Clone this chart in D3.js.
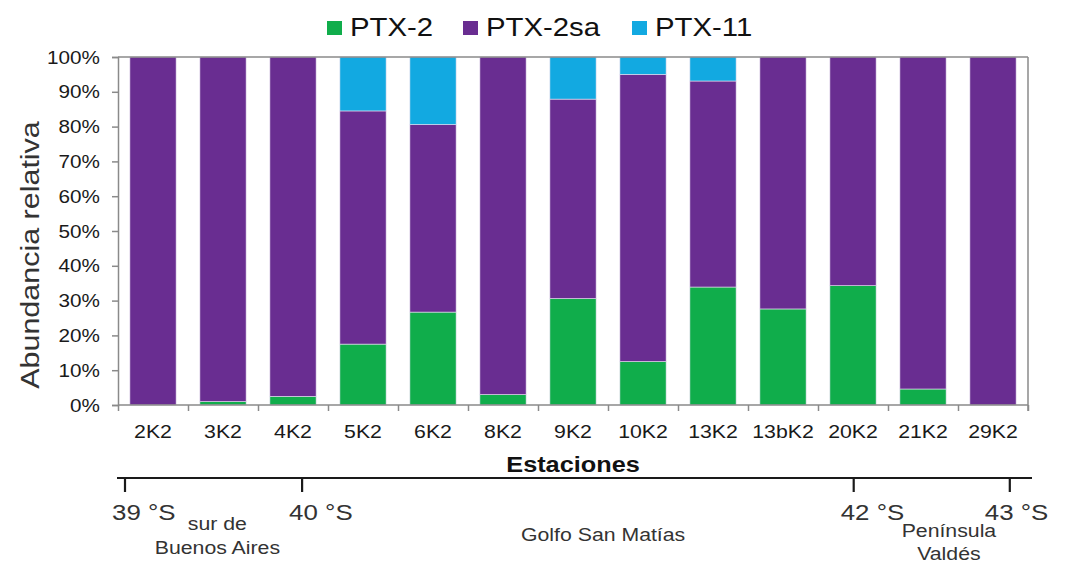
<!DOCTYPE html>
<html>
<head>
<meta charset="utf-8">
<script src="https://cdn.jsdelivr.net/npm/d3@7"></script>
<style>
  html, body { margin: 0; padding: 0; background: #fff; }
  svg { display: block; }
  text { font-family: "Liberation Sans", Arial, Helvetica, sans-serif; }
</style>
</head>
<body>
<svg id="chart" width="1067" height="562"></svg>
<script>
// ---- data ----
const stations = ["2K2", "3K2", "4K2", "5K2", "6K2", "8K2", "9K2", "10K2", "13K2", "13bK2", "20K2", "21K2", "29K2"];
const seriesNames = ["PTX-2", "PTX-2sa", "PTX-11"];
const ptx2   = [0.0, 1.0, 2.5, 17.5, 26.7, 3.0, 30.6, 12.5, 33.9, 27.6, 34.3, 4.6, 0.0];
const ptx2sa = [100.0, 99.0, 97.5, 67.0, 53.9, 97.0, 57.3, 82.5, 59.2, 72.4, 65.7, 95.4, 100.0];
const ptx11  = [0.0, 0.0, 0.0, 15.5, 19.4, 0.0, 12.1, 5.0, 6.9, 0.0, 0.0, 0.0, 0.0];
const yTicks = [0, 10, 20, 30, 40, 50, 60, 70, 80, 90, 100];
const latTicks = ["39 °S", "40 °S", "42 °S", "43 °S"];
const latPos = [0.1, 2.63, 10.51, 12.74];          // position along station axis (band units)
const regionLabels = [["sur de", "Buenos Aires"], ["Golfo San Matías"], ["Península", "Valdés"]];
const regionPos = [1.42, 6.93, 11.87];

const colors = {"PTX-2": "#10ad4b", "PTX-2sa": "#692d91", "PTX-11": "#12a9e1"};

// ---- layout ----
const svg = d3.select("#chart");
const L = 118, R = 1028, T = 57, B = 405;
const SX = 1.15; // horizontal stretch of text as in the reference

function txt(g, x, y, s, opts) {
  const o = Object.assign({size: 18, anchor: "middle", weight: "normal", fill: "#1a1a1a", rotate: 0}, opts || {});
  return g.append("text")
    .attr("transform", `translate(${x},${y}) rotate(${o.rotate}) scale(${SX},1)`)
    .attr("text-anchor", o.anchor)
    .attr("font-size", o.size)
    .attr("font-weight", o.weight)
    .attr("fill", o.fill)
    .text(s);
}

const x = d3.scaleBand().domain(stations).range([L, R]).paddingInner(0.34).paddingOuter(0.17);
const xPos = d3.scaleLinear().domain([0, stations.length]).range([L, R]);
const y = d3.scaleLinear().domain([0, 100]).range([B, T]);

const rows = stations.map((s, i) => ({station: s, "PTX-2": ptx2[i], "PTX-2sa": ptx2sa[i], "PTX-11": ptx11[i]}));
const stacked = d3.stack().keys(seriesNames)(rows);

// bars
svg.append("g").selectAll("g").data(stacked).join("g")
  .attr("fill", d => colors[d.key])
  .selectAll("rect").data(d => d).join("rect")
  .attr("x", d => x(d.data.station))
  .attr("width", x.bandwidth())
  .attr("y", d => y(d[1]))
  .attr("height", d => Math.max(0, y(d[0]) - y(d[1])))
  .attr("stroke", "#e6def0")
  .attr("stroke-width", 0.6);

// frame (top / right)
const axisColor = "#8a8a8a";
svg.append("line").attr("x1", L).attr("x2", R).attr("y1", T).attr("y2", T).attr("stroke", axisColor).attr("stroke-width", 1.5);
svg.append("line").attr("x1", R).attr("x2", R).attr("y1", T).attr("y2", B + 6).attr("stroke", axisColor).attr("stroke-width", 1.5);

// y axis
const gy = svg.append("g").attr("transform", `translate(${L},0)`)
  .call(d3.axisLeft(y).tickValues(yTicks).tickSize(6).tickFormat(() => ""));
gy.selectAll("line, path").attr("stroke", axisColor).attr("stroke-width", 1.5);
yTicks.forEach(v => {
  txt(svg, L - 18, y(v) + 6.5, v + "%", {anchor: "end", size: 18});
});

// x axis: ticks at band boundaries
svg.append("line").attr("x1", L).attr("x2", R).attr("y1", B).attr("y2", B).attr("stroke", axisColor).attr("stroke-width", 1.5);
const gx = svg.append("g").attr("transform", `translate(0,${B})`)
  .call(d3.axisBottom(xPos).tickValues(d3.range(0, stations.length + 1)).tickSize(6).tickFormat(() => ""));
gx.select("path").remove();
gx.selectAll("line").attr("stroke", axisColor).attr("stroke-width", 1.5);
stations.forEach(s => {
  txt(svg, x(s) + x.bandwidth() / 2, 438, s, {size: 18.5});
});

// axis titles
txt(svg, 39, 255, "Abundancia relativa", {size: 26.5, rotate: -90, fill: "#333"});
txt(svg, 573, 472, "Estaciones", {size: 22, weight: "bold", fill: "#111"});

// legend
const legendX = [327, 463, 632];
seriesNames.forEach((n, i) => {
  svg.append("rect").attr("x", legendX[i]).attr("y", 21).attr("width", 15).attr("height", 14).attr("fill", colors[n]);
  txt(svg, legendX[i] + 23, 36, n, {anchor: "start", size: 25.5, fill: "#111"});
});

// latitude axis
const latY = 478;
svg.append("line").attr("x1", L - 1).attr("x2", 1032).attr("y1", latY).attr("y2", latY).attr("stroke", "#1a1a1a").attr("stroke-width", 2.2);
latTicks.forEach((t, i) => {
  const px = xPos(latPos[i]);
  svg.append("line").attr("x1", px).attr("x2", px).attr("y1", latY).attr("y2", latY + 14).attr("stroke", "#1a1a1a").attr("stroke-width", 2.2);
  const off = i === latTicks.length - 1 ? 25 : 13;
  txt(svg, px - off, 520, t, {anchor: "start", size: 22.5, fill: "#333"});
});
regionLabels.forEach((lines, i) => {
  const px = xPos(regionPos[i]);
  const y0 = lines.length === 1 ? 541 : (i === 0 ? 530 : 537);
  const step = i === 0 ? 24 : 22.5;
  lines.forEach((ln, j) => {
    txt(svg, px, y0 + j * step, ln, {size: 18.5, fill: "#333"});
  });
});
</script>
</body>
</html>
